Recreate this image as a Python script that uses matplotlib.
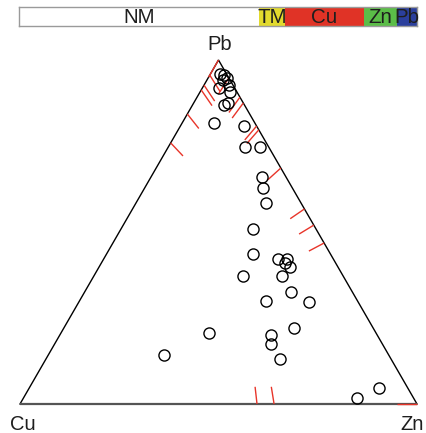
import numpy as np
import matplotlib
matplotlib.use("Agg")
import matplotlib.pyplot as plt

plt.rcParams['font.family'] = ['Liberation Sans', 'DejaVu Sans']

# Sample compositions (percent of Cu + Zn + Pb)
cu = [1.7, 0.8, 0.5, 1.8, 1.0, 3.9, 1.7, 5.2, 3.9, 10.3, 3.2, 6.0, 2.2, 6.0, 7.4,
      8.8, 15.9, 19.5, 14.0, 11.7, 12.8, 12.1, 25.2, 15.4, 15.4, 23.1, 12.4, 19.9,
      42.1, 26.7, 28.1, 28.0, 56.6, 7.2, 14.2]
zn = [2.4, 3.6, 4.7, 4.0, 6.3, 4.2, 7.6, 7.9, 8.6, 8.0, 16.0, 19.3, 23.1, 28.0, 29.8,
      32.8, 33.2, 36.9, 43.9, 46.2, 46.3, 48.1, 37.6, 47.4, 52.0, 47.0, 58.0, 58.0,
      37.3, 53.2, 54.5, 58.9, 29.2, 88.1, 84.0]
pb = [95.9, 95.6, 94.8, 94.2, 92.7, 91.9, 90.7, 86.9, 87.5, 81.7, 80.8, 74.7, 74.7,
      66.0, 62.8, 58.4, 50.9, 43.6, 42.1, 42.1, 40.9, 39.8, 37.2, 37.2, 32.6, 29.9,
      29.6, 22.1, 20.6, 20.1, 17.4, 13.1, 14.2, 4.6, 1.7]

# Edge rug positions
rug_cu_pb = [95.6, 92.7, 91.3, 84.3, 75.9]          # Pb % on the Cu-Pb edge
rug_zn_pb = [100.0, 94.8, 89.2, 87.5, 80.8, 79.7, 68.6, 56.7, 52.0, 46.8, 0.0]  # Pb % on the Zn-Pb edge
rug_cu_zn = [59.7, 64.0]                             # Zn % on the Cu-Zn edge

# Class shares for the header bar
classes = ["NM", "TM", "Cu", "Zn", "Pb"]
shares = [60.3, 6.5, 19.8, 8.5, 4.9]
class_colors = ["#ffffff", "#e2da2e", "#e03326", "#5bbd48", "#2b3f9c"]

TEXT = "#1e1e1e"
H = np.sqrt(3) / 2


def to_xy(c, z, p):
    c, z, p = (np.asarray(v, dtype=float) for v in (c, z, p))
    s = c + z + p
    return (z + p / 2) / s, H * p / s


fig = plt.figure(figsize=(4.26, 4.33), dpi=100)

# --- ternary panel ---
ax = fig.add_axes([20 / 426, 29 / 433, 397 / 426, 344 / 433])
ax.set_xlim(0, 1)
ax.set_ylim(0, H)
ax.axis("off")

V_cu, V_zn, V_pb = (0.0, 0.0), (1.0, 0.0), (0.5, H)
ax.plot([V_cu[0], V_pb[0], V_zn[0]], [V_cu[1], V_pb[1], V_zn[1]],
        color="black", lw=1.0, clip_on=False, solid_joinstyle="miter")
ax.plot([V_cu[0], V_zn[0]], [V_cu[1], V_zn[1]], color="#555555", lw=1.6,
        clip_on=False, solid_capstyle="butt")

rug_len = 5.0
rug_kw = dict(color="#e8352a", lw=1.0, clip_on=False, solid_capstyle="butt")
for p in rug_cu_pb:
    x0, y0 = to_xy(100 - p, 0, p)
    x1, y1 = to_xy((100 - p) * (1 - rug_len / 100), rug_len, p * (1 - rug_len / 100))
    ax.plot([x0, x1], [y0, y1], **rug_kw)
for p in rug_zn_pb:
    x0, y0 = to_xy(0, 100 - p, p)
    x1, y1 = to_xy(rug_len, (100 - p) * (1 - rug_len / 100), p * (1 - rug_len / 100))
    ax.plot([x0, x1], [y0, y1], **rug_kw)
for z in rug_cu_zn:
    x0, y0 = to_xy(100 - z, z, 0)
    x1, y1 = to_xy((100 - z) * (1 - rug_len / 100), z * (1 - rug_len / 100), rug_len)
    ax.plot([x0, x1], [y0, y1], **rug_kw)

px, py = to_xy(cu, zn, pb)
ax.plot(px, py, "o", ms=8, mfc="none", mec="black", mew=1.0, clip_on=False)

ax.text(V_cu[0] + 0.008, V_cu[1] - 0.028, "Cu", ha="center", va="top",
        fontsize=14.5, color=TEXT)
ax.text(V_zn[0] - 0.013, V_zn[1] - 0.028, "Zn", ha="center", va="top",
        fontsize=14.5, color=TEXT)
ax.text(V_pb[0] + 0.003, V_pb[1] + 0.016, "Pb", ha="center", va="bottom",
        fontsize=14.5, color=TEXT)

# --- class share bar ---
bx = fig.add_axes([19 / 426, 407 / 433, 398 / 426, 19 / 433])
left = 0.0
for name, w, col in zip(classes, shares, class_colors):
    bx.barh(0, w, left=left, height=1, color=col, edgecolor="none")
    bx.text(left + w / 2, -0.04, name, ha="center", va="center",
            fontsize=14.8, color=TEXT)
    left += w
bx.set_xlim(0, left)
bx.set_ylim(-0.5, 0.5)
bx.set_xticks([])
bx.set_yticks([])
for sp in bx.spines.values():
    sp.set_color("#9a9a9a")
    sp.set_linewidth(1.0)

fig.savefig("out.png", dpi=100)
